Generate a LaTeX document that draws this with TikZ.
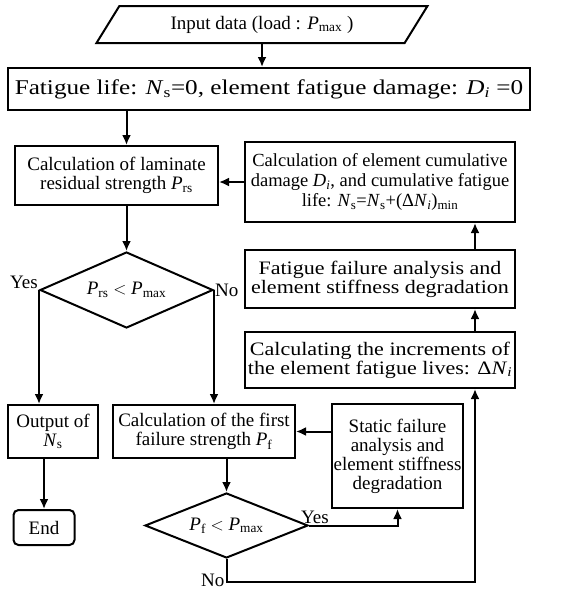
\documentclass[tikz,border=0pt]{standalone}
\usepackage{fontspec}
\setmainfont{Liberation Serif}
\newfontfamily\wideserif[FakeStretch=1.16]{Liberation Serif}
\newfontfamily\initserif[FakeStretch=1.2]{Liberation Serif}
\usetikzlibrary{shapes.geometric, arrows.meta}
\newcommand{\symb}[2]{\textit{#1}\textsubscript{#2}}

\begin{document}
\begin{tikzpicture}[x=1pt, y=-1pt, font=\fontsize{19}{19}\selectfont,
	box/.style={draw, line width=2pt, align=center, inner sep=0pt},
	test/.style={draw, diamond, line width=2pt, inner sep=0pt, aspect=2.2},
	flow/.style={->, >={Latex[length=10pt, width=9pt]}, line width=2pt}]
	\useasboundingbox (0,0) rectangle (583,590);
	
	%--- main column ---
	\node[draw, trapezium, trapezium left angle=37, trapezium right angle=143, trapezium stretches body,
		line width=2pt, minimum width=331pt, minimum height=37pt, inner sep=0pt] (input) at (262,24.5) {Input data (load : \symb{P}{max} )};
	\node[box, minimum width=522pt, minimum height=42pt, font=\fontsize{21}{21}\initserif] (init) at (269,89) {Fatigue life: \symb{N}{s}=0, element fatigue damage: \symb{D}{\textit{i}} =0};
	\node[box, minimum width=203pt, minimum height=59pt] (resid) at (116.5,175.5) {Calculation of laminate\\residual strength \symb{P}{rs}};
	\node[test, minimum width=173pt, minimum height=76pt] (check1) at (126.5,290) {\symb{P}{rs} $<$ \symb{P}{max}};
	\node[box, minimum width=90pt, minimum height=53pt] (output) at (53,431.5) {Output of\\\symb{N}{s}};
	\node[box, rounded corners=5pt, minimum width=61pt, minimum height=35pt] (endnode) at (44,527.5) {End};
	\node[box, minimum width=182pt, minimum height=53pt] (first) at (204,431.5) {Calculation of the first\\failure strength \symb{P}{f}};
	\node[test, minimum width=163pt, minimum height=65pt] (check2) at (226.5,525.5) {\symb{P}{f} $<$ \symb{P}{max}};
	
	%--- right column (fatigue loop) ---
	\node[box, minimum width=131pt, minimum height=104pt] (static) at (397.5,456) {Static failure\\analysis and\\element stiffness\\degradation};
	\node[box, minimum width=270pt, minimum height=56pt, font=\fontsize{19}{19}\wideserif] (incr) at (380,360) {Calculating the increments of\\the element fatigue lives: Δ\symb{N}{\textit{i}}};
	\node[box, minimum width=270pt, minimum height=58pt, font=\fontsize{19}{19}\wideserif] (fatig) at (380,279) {Fatigue failure analysis and\\element stiffness degradation};
	\node[box, minimum width=270pt, minimum height=80pt, font=\fontsize{18.5}{20}\selectfont] (cumul) at (380,182) {Calculation of element cumulative\\damage \symb{D}{\textit{i}}, and cumulative fatigue\\life: \symb{N}{s}=\symb{N}{s}+(Δ\symb{N}{\textit{i}})\textsubscript{min}};
	\coordinate (turn) at (475,582);
	
	%--- connectors ---
	\draw[flow] (input.south) -- (input.south |- init.north);
	\draw[flow] (init.south -| check1.north) -- (resid.north -| check1.north);
	\draw[flow] (resid.south -| check1.north) -- (check1.north);
	\draw[flow] (cumul.west) -- (cumul.west -| resid.east);
	\draw[flow] (check1.west) -- (check1.west |- output.north);
	\draw[flow] (check1.east) -- (check1.east |- first.north);
	\draw[flow] (endnode.north |- output.south) -- (endnode.north);
	\draw[flow] (check2.north |- first.south) -- (check2.north);
	\draw[flow] (check2.east) -| (static.south);
	\draw[flow] (first.east -| static.west) -- (first.east);
	\draw[flow] (check2.south) |- (turn) -- (turn |- incr.south);
	\draw[flow] (incr.north -| turn) -- (fatig.south -| turn);
	\draw[flow] (fatig.north -| turn) -- (cumul.south -| turn);
	
	% Yes / No labels
	\node[anchor=south east, inner sep=1pt] (yes1) at (check1.west) {Yes};
	\node[anchor=west, inner sep=1pt] (no1) at (check1.east) {No};
	\node[anchor=south, inner sep=2pt, xshift=6pt] (yes2) at (check2.east) {Yes};
	\node[anchor=east, inner sep=2pt, yshift=2pt] (no2) at (turn -| check2.south) {No};
\end{tikzpicture}
\end{document}
